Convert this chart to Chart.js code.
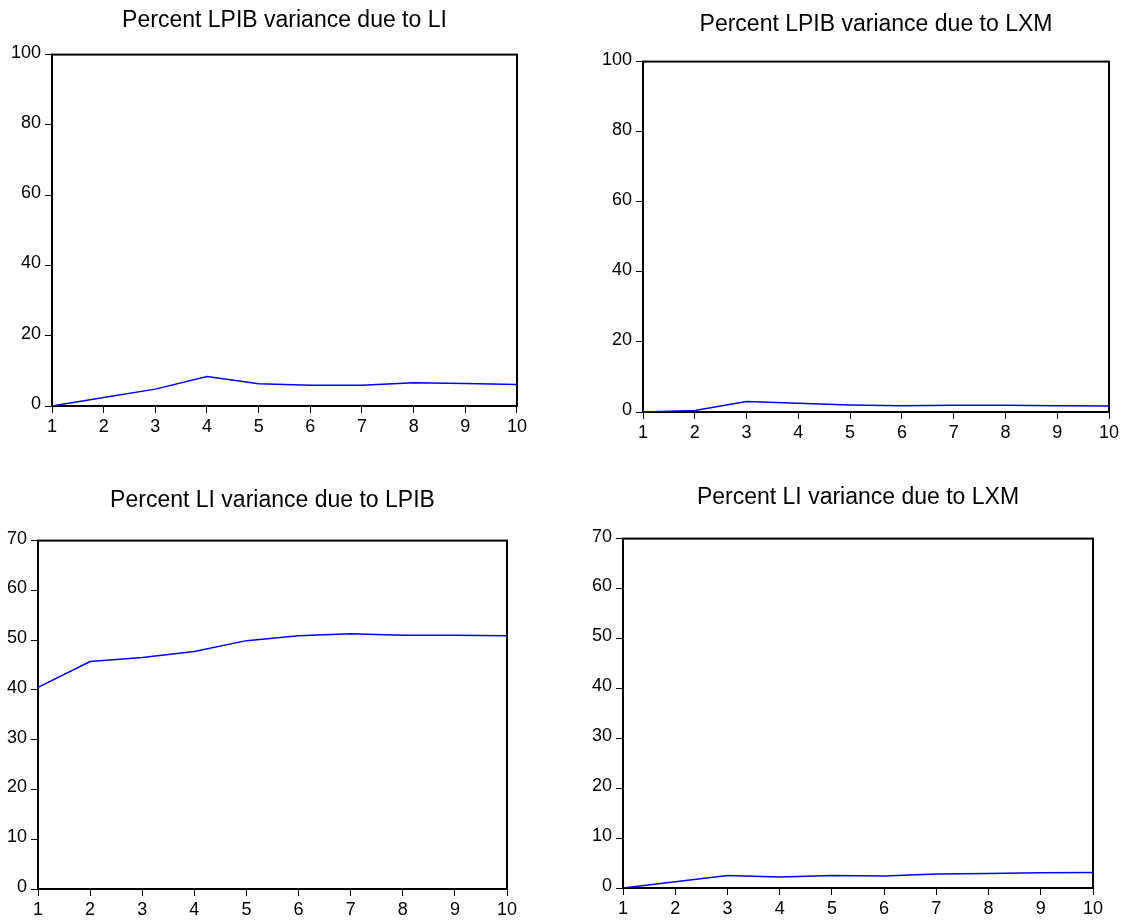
<!DOCTYPE html>
<html>
<head>
<meta charset="utf-8">
<script src="https://cdn.jsdelivr.net/npm/chart.js@4.4.1/dist/chart.umd.min.js"></script>
<style>
  html, body { margin: 0; padding: 0; background: #ffffff; width: 1125px; height: 923px; overflow: hidden; }
  .panel { position: absolute; }
</style>
</head>
<body>
<div class="panel" id="p1" style="left:0px;top:0px;width:530px;height:438px;"><canvas id="c1"></canvas></div>
<div class="panel" id="p2" style="left:560px;top:0px;width:565px;height:444px;"><canvas id="c2"></canvas></div>
<div class="panel" id="p3" style="left:0px;top:470px;width:522px;height:451px;"><canvas id="c3"></canvas></div>
<div class="panel" id="p4" style="left:560px;top:470px;width:565px;height:450px;"><canvas id="c4"></canvas></div>
<script>
// ---- data ----
const horizons = ['1', '2', '3', '4', '5', '6', '7', '8', '9', '10'];
const lpibDueToLI   = [0, 2.4, 4.8, 8.4, 6.3, 5.9, 5.9, 6.6, 6.4, 6.1];
const lpibDueToLXM  = [0, 0.4, 3.0, 2.5, 2.0, 1.8, 1.9, 1.9, 1.8, 1.7];
const liDueToLPIB   = [40.5, 45.7, 46.5, 47.7, 49.9, 50.9, 51.3, 51.0, 51.0, 50.9];
const liDueToLXM    = [0, 1.25, 2.5, 2.2, 2.5, 2.4, 2.8, 2.9, 3.05, 3.1];
const titles = [
  'Percent LPIB variance due to LI',
  'Percent LPIB variance due to LXM',
  'Percent LI variance due to LPIB',
  'Percent LI variance due to LXM'
];
const yMaxTop = 100, yStepTop = 20;
const yMaxBottom = 70, yStepBottom = 10;

// ---- chart setup ----
const FONT = '"Liberation Sans", Arial, Helvetica, sans-serif';

const framePlugin = {
  id: 'frame',
  beforeDatasetsDraw(chart) {
    const a = chart.chartArea, ctx = chart.ctx;
    ctx.save();
    ctx.strokeStyle = '#000';
    ctx.lineWidth = 2;
    ctx.strokeRect(a.left, a.top, a.right - a.left, a.bottom - a.top);
    ctx.restore();
  }
};

function makeChart(id, title, values, yMax, yStep, cfg) {
  return new Chart(document.getElementById(id), {
    type: 'line',
    data: {
      labels: horizons,
      datasets: [{
        data: values,
        borderColor: '#0000ff',
        borderWidth: 1.5,
        pointRadius: 0,
        tension: 0,
        fill: false
      }]
    },
    options: {
      responsive: true,
      maintainAspectRatio: false,
      animation: false,
      devicePixelRatio: 1,
      layout: { padding: { left: 0, right: cfg.padRight, top: 0, bottom: 0 } },
      plugins: {
        legend: { display: false },
        tooltip: { enabled: false },
        title: {
          display: true,
          text: title,
          fullSize: false,
          color: '#000',
          font: { family: FONT, size: 23, weight: 'normal' },
          padding: { top: cfg.titleTop, bottom: cfg.titleBottom }
        }
      },
      scales: {
        x: {
          type: 'category',
          offset: false,
          border: { display: false },
          grid: { offset: false, drawOnChartArea: false, drawTicks: true, tickLength: 7, color: '#000', lineWidth: 1 },
          ticks: { color: '#000', font: { family: FONT, size: 18 }, padding: 3, autoSkip: false, maxRotation: 0 },
          afterFit(scale) { scale.height = 32; }
        },
        y: {
          min: 0,
          max: yMax,
          border: { display: false },
          grid: { drawOnChartArea: false, drawTicks: true, tickLength: 7, color: '#000', lineWidth: 1 },
          ticks: { stepSize: yStep, color: '#000', font: { family: FONT, size: 18 }, padding: 4, labelOffset: -2 },
          afterFit(scale) { scale.width = cfg.yWidth; }
        }
      }
    },
    plugins: [framePlugin]
  });
}

makeChart('c1', titles[0], lpibDueToLI,  yMaxTop, yStepTop, { yWidth: 52, padRight: 11, titleTop: 7,  titleBottom: 20 });
makeChart('c2', titles[1], lpibDueToLXM, yMaxTop, yStepTop, { yWidth: 83, padRight: 16, titleTop: 11, titleBottom: 23 });
makeChart('c3', titles[2], liDueToLPIB,  yMaxBottom, yStepBottom, { yWidth: 38, padRight: 15, titleTop: 17, titleBottom: 26 });
makeChart('c4', titles[3], liDueToLXM,   yMaxBottom, yStepBottom, { yWidth: 63, padRight: 32, titleTop: 14, titleBottom: 27 });
</script>
</body>
</html>
